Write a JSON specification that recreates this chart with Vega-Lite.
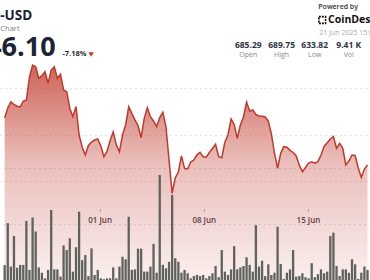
{
"$schema": "https://vega.github.io/schema/vega-lite/v6.json",
"width": 370, "height": 280, "padding": 0,
"autosize": {"type": "none"},
"background": "white",
"config": {"view": {"stroke": null}, "text": {"font": "Open Sans"}},
"datasets": {
"series": [
{"t":"2025-05-25T15:00:00","price":667.10,"volume":5.4},
{"t":"2025-05-25T20:00:00","price":671.40,"volume":20.3},
{"t":"2025-05-26T01:00:00","price":673.98,"volume":4.8},
{"t":"2025-05-26T06:00:00","price":672.99,"volume":15.7},
{"t":"2025-05-26T11:00:00","price":672.17,"volume":4.4},
{"t":"2025-05-26T16:00:00","price":671.83,"volume":5.4},
{"t":"2025-05-26T21:00:00","price":674.41,"volume":5.4},
{"t":"2025-05-27T02:00:00","price":674.84,"volume":21.1},
{"t":"2025-05-27T07:00:00","price":684.73,"volume":3.6},
{"t":"2025-05-27T12:00:00","price":689.89,"volume":22.3},
{"t":"2025-05-27T17:00:00","price":689.16,"volume":17.3},
{"t":"2025-05-27T22:00:00","price":684.17,"volume":4.5},
{"t":"2025-05-28T03:00:00","price":685.33,"volume":2.6},
{"t":"2025-05-28T08:00:00","price":687.01,"volume":0.6},
{"t":"2025-05-28T13:00:00","price":682.02,"volume":3.6},
{"t":"2025-05-28T18:00:00","price":687.74,"volume":25.0},
{"t":"2025-05-28T23:00:00","price":689.16,"volume":3.8},
{"t":"2025-05-29T04:00:00","price":684.17,"volume":3.8},
{"t":"2025-05-29T09:00:00","price":685.89,"volume":1.2},
{"t":"2025-05-29T14:00:00","price":679.14,"volume":12.3},
{"t":"2025-05-29T19:00:00","price":678.41,"volume":10.7},
{"t":"2025-05-30T00:00:00","price":671.31,"volume":14.9},
{"t":"2025-05-30T05:00:00","price":667.66,"volume":3.0},
{"t":"2025-05-30T10:00:00","price":671.96,"volume":11.7},
{"t":"2025-05-30T15:00:00","price":659.78,"volume":24.4},
{"t":"2025-05-30T20:00:00","price":654.54,"volume":7.1},
{"t":"2025-05-31T01:00:00","price":651.18,"volume":8.9},
{"t":"2025-05-31T06:00:00","price":655.27,"volume":1.4},
{"t":"2025-05-31T11:00:00","price":656.77,"volume":11.3},
{"t":"2025-05-31T16:00:00","price":657.63,"volume":1.8},
{"t":"2025-05-31T21:00:00","price":658.06,"volume":3.6},
{"t":"2025-06-01T02:00:00","price":655.05,"volume":0.6},
{"t":"2025-06-01T07:00:00","price":650.45,"volume":0.3},
{"t":"2025-06-01T12:00:00","price":652.69,"volume":0.6},
{"t":"2025-06-01T17:00:00","price":657.33,"volume":0.6},
{"t":"2025-06-01T22:00:00","price":661.08,"volume":4.5},
{"t":"2025-06-02T03:00:00","price":655.53,"volume":0.6},
{"t":"2025-06-02T08:00:00","price":652.60,"volume":4.8},
{"t":"2025-06-02T13:00:00","price":659.78,"volume":8.3},
{"t":"2025-06-02T18:00:00","price":664.09,"volume":7.4},
{"t":"2025-06-02T23:00:00","price":671.96,"volume":22.6},
{"t":"2025-06-03T04:00:00","price":669.12,"volume":3.6},
{"t":"2025-06-03T09:00:00","price":666.32,"volume":3.8},
{"t":"2025-06-03T14:00:00","price":663.87,"volume":11.2},
{"t":"2025-06-03T19:00:00","price":658.62,"volume":11.2},
{"t":"2025-06-04T00:00:00","price":666.97,"volume":3.0},
{"t":"2025-06-04T05:00:00","price":671.53,"volume":3.0},
{"t":"2025-06-04T10:00:00","price":667.66,"volume":4.8},
{"t":"2025-06-04T15:00:00","price":665.81,"volume":12.9},
{"t":"2025-06-04T20:00:00","price":663.35,"volume":2.6},
{"t":"2025-06-05T01:00:00","price":667.31,"volume":37.5},
{"t":"2025-06-05T06:00:00","price":669.55,"volume":5.4},
{"t":"2025-06-05T11:00:00","price":663.35,"volume":4.2},
{"t":"2025-06-05T16:00:00","price":649.03,"volume":6.5},
{"t":"2025-06-05T21:00:00","price":634.71,"volume":30.4},
{"t":"2025-06-06T02:00:00","price":641.29,"volume":7.8},
{"t":"2025-06-06T07:00:00","price":643.87,"volume":6.5},
{"t":"2025-06-06T12:00:00","price":650.75,"volume":2.6},
{"t":"2025-06-06T17:00:00","price":645.38,"volume":3.6},
{"t":"2025-06-06T22:00:00","price":645.16,"volume":2.4},
{"t":"2025-06-07T03:00:00","price":648.17,"volume":0.6},
{"t":"2025-06-07T08:00:00","price":649.03,"volume":1.4},
{"t":"2025-06-07T13:00:00","price":651.27,"volume":1.8},
{"t":"2025-06-07T18:00:00","price":652.34,"volume":1.4},
{"t":"2025-06-07T23:00:00","price":650.45,"volume":1.8},
{"t":"2025-06-08T04:00:00","price":650.24,"volume":0.6},
{"t":"2025-06-08T09:00:00","price":652.26,"volume":1.4},
{"t":"2025-06-08T14:00:00","price":653.98,"volume":2.4},
{"t":"2025-06-08T19:00:00","price":655.78,"volume":5.0},
{"t":"2025-06-09T00:00:00","price":650.45,"volume":1.0},
{"t":"2025-06-09T05:00:00","price":650.02,"volume":10.7},
{"t":"2025-06-09T10:00:00","price":656.64,"volume":3.0},
{"t":"2025-06-09T15:00:00","price":659.78,"volume":1.8},
{"t":"2025-06-09T20:00:00","price":666.67,"volume":3.8},
{"t":"2025-06-10T01:00:00","price":664.30,"volume":12.1},
{"t":"2025-06-10T06:00:00","price":658.37,"volume":3.8},
{"t":"2025-06-10T11:00:00","price":664.09,"volume":4.5},
{"t":"2025-06-10T16:00:00","price":667.53,"volume":5.0},
{"t":"2025-06-10T21:00:00","price":673.98,"volume":8.1},
{"t":"2025-06-11T02:00:00","price":670.11,"volume":5.4},
{"t":"2025-06-11T07:00:00","price":670.54,"volume":3.0},
{"t":"2025-06-11T12:00:00","price":668.60,"volume":19.6},
{"t":"2025-06-11T17:00:00","price":667.96,"volume":4.8},
{"t":"2025-06-11T22:00:00","price":667.87,"volume":6.9},
{"t":"2025-06-12T03:00:00","price":667.53,"volume":1.4},
{"t":"2025-06-12T08:00:00","price":665.81,"volume":5.6},
{"t":"2025-06-12T13:00:00","price":660.22,"volume":1.8},
{"t":"2025-06-12T18:00:00","price":651.91,"volume":2.6},
{"t":"2025-06-12T23:00:00","price":645.46,"volume":19.0},
{"t":"2025-06-13T04:00:00","price":651.91,"volume":5.7},
{"t":"2025-06-13T09:00:00","price":654.75,"volume":0.4},
{"t":"2025-06-13T14:00:00","price":654.49,"volume":2.6},
{"t":"2025-06-13T19:00:00","price":653.20,"volume":3.8},
{"t":"2025-06-14T00:00:00","price":652.26,"volume":10.7},
{"t":"2025-06-14T05:00:00","price":650.75,"volume":1.2},
{"t":"2025-06-14T10:00:00","price":646.80,"volume":1.4},
{"t":"2025-06-14T15:00:00","price":644.00,"volume":2.4},
{"t":"2025-06-14T20:00:00","price":645.81,"volume":1.0},
{"t":"2025-06-15T01:00:00","price":647.74,"volume":0.6},
{"t":"2025-06-15T06:00:00","price":648.21,"volume":6.0},
{"t":"2025-06-15T11:00:00","price":647.66,"volume":1.0},
{"t":"2025-06-15T16:00:00","price":648.34,"volume":2.1},
{"t":"2025-06-15T21:00:00","price":651.18,"volume":3.8},
{"t":"2025-06-16T02:00:00","price":654.84,"volume":2.4},
{"t":"2025-06-16T07:00:00","price":656.43,"volume":3.0},
{"t":"2025-06-16T12:00:00","price":658.06,"volume":15.7},
{"t":"2025-06-16T17:00:00","price":659.14,"volume":16.9},
{"t":"2025-06-16T22:00:00","price":654.06,"volume":5.0},
{"t":"2025-06-17T03:00:00","price":656.22,"volume":1.4},
{"t":"2025-06-17T08:00:00","price":654.19,"volume":3.8},
{"t":"2025-06-17T13:00:00","price":646.88,"volume":3.8},
{"t":"2025-06-17T18:00:00","price":648.60,"volume":2.6},
{"t":"2025-06-17T23:00:00","price":651.18,"volume":7.4},
{"t":"2025-06-18T04:00:00","price":650.97,"volume":5.6},
{"t":"2025-06-18T09:00:00","price":645.59,"volume":0.4},
{"t":"2025-06-18T14:00:00","price":641.51,"volume":2.6},
{"t":"2025-06-18T19:00:00","price":645.16,"volume":4.8},
{"t":"2025-06-19T00:00:00","price":646.88,"volume":3.6}
],
"stats": [
{"t":"2025-06-10T23:42:00","value":"685.29","label":"Open"},
{"t":"2025-06-13T05:30:00","value":"689.75","label":"High"},
{"t":"2025-06-15T10:49:00","value":"633.82","label":"Low"},
{"t":"2025-06-17T17:44:00","value":"9.41 K","label":"Vol"}
]
},
"resolve": {"scale": {"y": "independent"}, "axis": {"y": "independent"}},
"layer": [
{
"data": {"name": "series"},
"mark": {"type": "area", "clip": true, "color": {"gradient": "linear", "x1": 0, "y1": 0, "x2": 0, "y2": 1,
"stops": [{"offset": 0, "color": "rgba(192,57,43,0.78)"}, {"offset": 0.45, "color": "rgba(192,57,43,0.33)"}, {"offset": 1, "color": "rgba(192,57,43,0.08)"}]}},
"encoding": {
"x": {"field": "t", "type": "temporal",
"scale": {"domain": [{"year":2025,"month":5,"date":25,"hours":15,"minutes":32},{"year":2025,"month":6,"date":18,"hours":19,"minutes":55}]},
"axis": {"values": [{"year":2025,"month":5,"date":25},{"year":2025,"month":6,"date":1},{"year":2025,"month":6,"date":8},{"year":2025,"month":6,"date":15}],
"format": "%d %b", "orient": "bottom", "offset": -71, "domain": false, "grid": false, "tickSize": 2, "tickColor": "#9a9a9a",
"labelFont": "Open Sans", "labelFontSize": 8, "labelFontWeight": 600, "labelColor": "#3d424a", "labelPadding": 5, "title": null}},
"y": {"field": "price", "type": "quantitative", "scale": {"domain": [597.42, 717.85], "zero": false, "nice": false},
"axis": {"orient": "left", "values": [640, 660, 680], "grid": true, "gridColor": "#c4c4c4", "gridDash": [1, 4], "labels": false, "ticks": false, "domain": false, "title": null}},
"y2": {"datum": 597.42}
}
},
{
"data": {"name": "series"},
"mark": {"type": "bar", "size": 2.3, "color": "#5f635e", "clip": true},
"encoding": {
"x": {"field": "t", "type": "temporal"},
"y": {"field": "volume", "type": "quantitative", "scale": {"domain": [0, 100], "nice": false},
"axis": {"orient": "right", "values": [20, 40], "grid": true, "gridColor": "#c4c4c4", "gridDash": [1, 4], "labels": false, "ticks": false, "domain": false, "title": null}}
}
},
{
"data": {"name": "series"},
"mark": {"type": "line", "color": "#c0392b", "strokeWidth": 1.5, "clip": true},
"encoding": {
"x": {"field": "t", "type": "temporal"},
"y": {"field": "price", "type": "quantitative", "scale": {"domain": [597.42, 717.85], "zero": false, "nice": false}, "axis": null}
}
},
{
"data": {"values": [{"t":"2025-05-27T11:27:00","price":711.0,"txt":"BNB-USD"}]},
"mark": {"type": "text", "align": "right", "baseline": "middle", "fontSize": 13.5, "fontWeight": 700, "color": "#1b2233"},
"encoding": {"x": {"field": "t", "type": "temporal"}, "y": {"field": "price", "type": "quantitative", "scale": {"domain": [597.42, 717.85], "zero": false, "nice": false}, "axis": null}, "text": {"field": "txt"}}
},
{
"data": {"values": [{"t":"2025-05-26T15:04:00","price":705.2,"txt":"Chart"}]},
"mark": {"type": "text", "align": "right", "baseline": "middle", "fontSize": 7.5, "color": "#7a7f87"},
"encoding": {"x": {"field": "t", "type": "temporal"}, "y": {"field": "price", "type": "quantitative", "scale": {"domain": [597.42, 717.85], "zero": false, "nice": false}, "axis": null}, "text": {"field": "txt"}}
},
{
"data": {"values": [{"t":"2025-05-29T01:06:00","price":697.2,"txt":"646.10"}]},
"mark": {"type": "text", "align": "right", "baseline": "middle", "fontSize": 27, "fontWeight": 700, "color": "#1b2233"},
"encoding": {"x": {"field": "t", "type": "temporal"}, "y": {"field": "price", "type": "quantitative", "scale": {"domain": [597.42, 717.85], "zero": false, "nice": false}, "axis": null}, "text": {"field": "txt"}}
},
{
"data": {"values": [{"t":"2025-05-29T12:05:00","price":694.41,"txt":"-7.18%"}]},
"mark": {"type": "text", "align": "left", "baseline": "middle", "fontSize": 7.5, "fontWeight": 700, "color": "#2b2f36"},
"encoding": {"x": {"field": "t", "type": "temporal"}, "y": {"field": "price", "type": "quantitative", "scale": {"domain": [597.42, 717.85], "zero": false, "nice": false}, "axis": null}, "text": {"field": "txt"}}
},
{
"data": {"values": [{"t":"2025-05-31T10:21:00","price":694.41}]},
"mark": {"type": "point", "shape": "triangle-down", "filled": true, "size": 30, "color": "#c0392b", "opacity": 1},
"encoding": {"x": {"field": "t", "type": "temporal"}, "y": {"field": "price", "type": "quantitative", "scale": {"domain": [597.42, 717.85], "zero": false, "nice": false}, "axis": null}}
},
{
"data": {"values": [{"t":"2025-06-15T16:38:00","price":714.84,"txt":"Powered by"}]},
"mark": {"type": "text", "align": "left", "baseline": "middle", "fontSize": 7, "fontWeight": 600, "color": "#333333"},
"encoding": {"x": {"field": "t", "type": "temporal"}, "y": {"field": "price", "type": "quantitative", "scale": {"domain": [597.42, 717.85], "zero": false, "nice": false}, "axis": null}, "text": {"field": "txt"}}
},
{
"data": {"values": [{"t":"2025-06-15T22:54:00","price":709.25}]},
"mark": {"type": "point", "shape": "square", "filled": false, "size": 45, "color": "#111111", "strokeWidth": 1.6, "strokeDash": [2, 1], "opacity": 1},
"encoding": {"x": {"field": "t", "type": "temporal"}, "y": {"field": "price", "type": "quantitative", "scale": {"domain": [597.42, 717.85], "zero": false, "nice": false}, "axis": null}}
},
{
"data": {"values": [{"t":"2025-06-16T08:19:00","price":709.25,"txt":"CoinDesk"}]},
"mark": {"type": "text", "align": "left", "baseline": "middle", "fontSize": 10.5, "fontWeight": 700, "color": "#111111"},
"encoding": {"x": {"field": "t", "type": "temporal"}, "y": {"field": "price", "type": "quantitative", "scale": {"domain": [597.42, 717.85], "zero": false, "nice": false}, "axis": null}, "text": {"field": "txt"}}
},
{
"data": {"values": [{"t":"2025-06-15T18:12:00","price":703.87,"txt":"21 Jun 2025 15:00 UTC"}]},
"mark": {"type": "text", "align": "left", "baseline": "middle", "fontSize": 7, "color": "#aaaaaa"},
"encoding": {"x": {"field": "t", "type": "temporal"}, "y": {"field": "price", "type": "quantitative", "scale": {"domain": [597.42, 717.85], "zero": false, "nice": false}, "axis": null}, "text": {"field": "txt"}}
},
{
"data": {"name": "stats"},
"mark": {"type": "text", "align": "center", "baseline": "middle", "fontSize": 8.5, "fontWeight": 700, "color": "#2e3440"},
"encoding": {"x": {"field": "t", "type": "temporal"}, "y": {"datum": 698.7, "type": "quantitative", "scale": {"domain": [597.42, 717.85], "zero": false, "nice": false}, "axis": null}, "text": {"field": "value"}}
},
{
"data": {"name": "stats"},
"mark": {"type": "text", "align": "center", "baseline": "middle", "fontSize": 7, "color": "#888888"},
"encoding": {"x": {"field": "t", "type": "temporal"}, "y": {"datum": 694.4, "type": "quantitative", "scale": {"domain": [597.42, 717.85], "zero": false, "nice": false}, "axis": null}, "text": {"field": "label"}}
}
]
}
